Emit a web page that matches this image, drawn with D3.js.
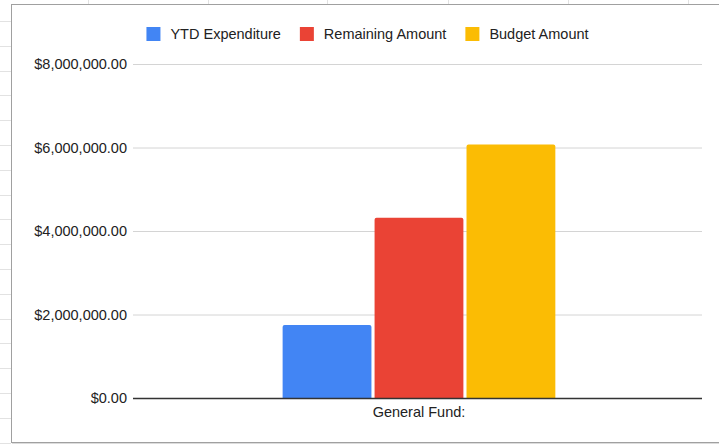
<!DOCTYPE html>
<html>
<head>
<meta charset="utf-8">
<script src="https://cdn.jsdelivr.net/npm/d3@7"></script>
<style>
  html, body { margin: 0; padding: 0; background: #fff; }
  svg { display: block; font-family: Arial, "Liberation Sans", sans-serif; }
</style>
</head>
<body>
<div id="chart"></div>
<script>
// Data
const categories = ["General Fund:"];
const seriesNames = ["YTD Expenditure", "Remaining Amount", "Budget Amount"];
const seriesColors = ["#4285F4", "#EA4335", "#FBBC04"];
const ytdExpenditure = [1750000];
const remainingAmount = [4320000];
const budgetAmount = [6070000];
const yTicks = [0, 2000000, 4000000, 6000000, 8000000];

const seriesValues = [ytdExpenditure, remainingAmount, budgetAmount];

// Dimensions
let dimensions = {
  width: 719,
  height: 446,
  frameLeft: 11,
  frameTop: 4,
  frameBottom: 442,
  plotLeft: 133,
  plotRight: 702,
  plotTop: 64,
  plotBottom: 398,
};

const svg = d3
  .select("#chart")
  .append("svg")
  .attr("width", dimensions.width)
  .attr("height", dimensions.height);

// spreadsheet behind the chart
const sheet = svg.append("g").attr("stroke", "#e2e2e2").attr("stroke-width", 1);
[88, 208, 327, 448, 568, 688].forEach((x) => {
  sheet.append("line").attr("x1", x + 0.5).attr("x2", x + 0.5).attr("y1", 0).attr("y2", dimensions.frameTop);
});
for (let y = 21; y < dimensions.height; y += 24.8) {
  sheet.append("line").attr("x1", 0).attr("x2", dimensions.frameLeft)
    .attr("y1", Math.round(y) + 0.5).attr("y2", Math.round(y) + 0.5);
}

// chart frame with shadow
svg.append("rect")
  .attr("x", dimensions.frameLeft + 1)
  .attr("y", dimensions.frameTop + 2)
  .attr("width", dimensions.width)
  .attr("height", dimensions.frameBottom - dimensions.frameTop)
  .attr("fill", "#dcdcdc");
svg.append("rect")
  .attr("x", dimensions.frameLeft + 0.5)
  .attr("y", dimensions.frameTop + 0.5)
  .attr("width", dimensions.width)
  .attr("height", dimensions.frameBottom - dimensions.frameTop)
  .attr("fill", "#fff")
  .attr("stroke", "#a0a0a0");

// Scales
const yScale = d3
  .scaleLinear()
  .domain([0, 8000000])
  .range([dimensions.plotBottom, dimensions.plotTop]);

const xScale = d3
  .scaleBand()
  .domain(categories)
  .range([dimensions.plotLeft, dimensions.plotRight])
  .padding(0.352)
  .align(0.505);

const seriesScale = d3
  .scaleBand()
  .domain(seriesNames)
  .range([0, xScale.bandwidth()])
  .paddingInner(0.034);

// Gridlines + y axis labels
const money = (d) => "$" + d3.format(",.2f")(d);
const yAxis = d3
  .axisLeft(yScale)
  .tickValues(yTicks)
  .tickSize(-(dimensions.plotRight - dimensions.plotLeft))
  .tickPadding(6)
  .tickFormat(money);

const yAxisGroup = svg
  .append("g")
  .attr("transform", `translate(${dimensions.plotLeft},0)`)
  .call(yAxis)
  .attr("font-size", 14.5)
  .attr("font-family", "Arial, 'Liberation Sans', sans-serif");
yAxisGroup.select(".domain").remove();
yAxisGroup.selectAll(".tick line").attr("stroke", "#d4d4d4");
yAxisGroup.selectAll(".tick text").attr("fill", "#222");

// Bars
const groups = svg
  .selectAll(".cat")
  .data(categories)
  .join("g")
  .attr("transform", (d) => `translate(${xScale(d)},0)`);

groups
  .selectAll("path")
  .data((d, i) => seriesNames.map((s, k) => ({ name: s, value: seriesValues[k][i], color: seriesColors[k] })))
  .join("path")
  .attr("fill", (d) => d.color)
  .attr("d", (d) => {
    const x0 = seriesScale(d.name);
    const w = seriesScale.bandwidth();
    const y0 = yScale(d.value);
    const y1 = yScale(0);
    const r = 2;
    return `M${x0},${y1}V${y0 + r}Q${x0},${y0} ${x0 + r},${y0}H${x0 + w - r}Q${x0 + w},${y0} ${x0 + w},${y0 + r}V${y1}Z`;
  });

// Baseline
svg.append("line")
  .attr("x1", dimensions.plotLeft)
  .attr("x2", dimensions.plotRight)
  .attr("y1", yScale(0) + 0.5)
  .attr("y2", yScale(0) + 0.5)
  .attr("stroke", "#333")
  .attr("stroke-width", 1.3);

// X axis labels
const xAxis = d3.axisBottom(xScale).tickSize(0).tickPadding(9);
const xAxisGroup = svg
  .append("g")
  .attr("transform", `translate(0,${dimensions.plotBottom})`)
  .call(xAxis)
  .attr("font-size", 14.5)
  .attr("font-family", "Arial, 'Liberation Sans', sans-serif");
xAxisGroup.select(".domain").remove();
xAxisGroup.selectAll(".tick text").attr("fill", "#222");

// Legend
const legend = svg.append("g").attr("transform", "translate(0,34)");
const items = legend
  .selectAll("g")
  .data(seriesNames)
  .join("g");
items.append("rect")
  .attr("y", -7)
  .attr("width", 14)
  .attr("height", 14)
  .attr("fill", (d, i) => seriesColors[i]);
items.append("text")
  .attr("x", 24)
  .attr("dy", "0.36em")
  .attr("fill", "#222")
  .attr("font-size", 14.5)
  .text((d) => d);

let offset = 0;
const positions = [];
items.each(function () {
  positions.push(offset);
  const w = d3.select(this).select("text").node().getComputedTextLength();
  offset += 24 + w + 19;
});
const legendWidth = offset - 19;
const legendStart = 367.5 - legendWidth / 2;
items.attr("transform", (d, i) => `translate(${legendStart + positions[i]},0)`);
</script>
</body>
</html>
